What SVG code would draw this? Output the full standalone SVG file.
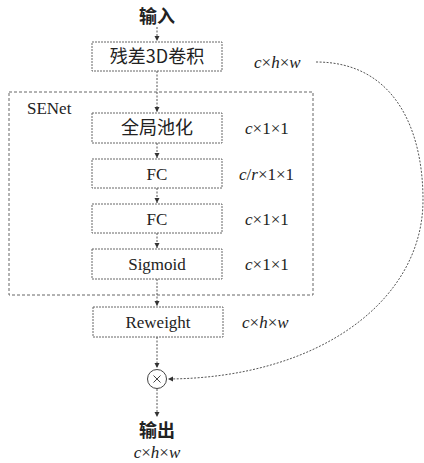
<svg xmlns="http://www.w3.org/2000/svg" width="424" height="463" viewBox="0 0 424 463">
<style>
.box{fill:#fff;stroke:#666;stroke-width:1;stroke-dasharray:2 1}
.frame{fill:none;stroke:#666;stroke-width:1;stroke-dasharray:3 2}
.t{font-family:"Liberation Serif",serif;font-size:17px;fill:#222;text-anchor:middle}
.cn{font-family:"Noto Sans CJK SC","Liberation Serif",sans-serif;font-size:18px;fill:#222;text-anchor:middle}
.dim{font-family:"Liberation Serif",serif;font-size:17px;fill:#222}
.conn{fill:none;stroke:#555;stroke-width:1;stroke-dasharray:2 1.5}
</style>
<defs>
<marker id="ah" markerWidth="6" markerHeight="6" refX="5" refY="3" orient="auto" markerUnits="userSpaceOnUse">
<path d="M0,0.5 L5,3 L0,5.5 z" fill="#333"/>
</marker>
</defs>
<g id="input"><text class="cn" x="157" y="23" font-size="17" font-weight="bold">输入</text></g>
<g id="res3d"><rect class="box" x="92" y="42" width="130" height="29"/><text class="cn" x="157" y="63">残差3D卷积</text></g>
<g id="dim0"><text class="dim" x="254" y="68"><tspan font-style="italic">c</tspan>×<tspan font-style="italic">h</tspan>×<tspan font-style="italic">w</tspan></text></g>
<g id="senet"><rect class="frame" x="9" y="92" width="304" height="203"/><text class="dim" x="27" y="114">SENet</text></g>
<g id="gap"><rect class="box" x="92" y="113" width="130" height="30"/><text class="cn" x="157" y="134">全局池化</text></g>
<g id="dim1"><text class="dim" x="245" y="134"><tspan font-style="italic">c</tspan>×1×1</text></g>
<g id="fc1"><rect class="box" x="92" y="159" width="130" height="29"/><text class="t" x="157" y="180">FC</text></g>
<g id="dim2"><text class="dim" x="239" y="180"><tspan font-style="italic">c</tspan>/<tspan font-style="italic">r</tspan>×1×1</text></g>
<g id="fc2"><rect class="box" x="92" y="204" width="130" height="29"/><text class="t" x="157" y="225">FC</text></g>
<g id="dim3"><text class="dim" x="245" y="225"><tspan font-style="italic">c</tspan>×1×1</text></g>
<g id="sigmoid"><rect class="box" x="92" y="249" width="130" height="30"/><text class="t" x="157" y="270">Sigmoid</text></g>
<g id="dim4"><text class="dim" x="245" y="270"><tspan font-style="italic">c</tspan>×1×1</text></g>
<g id="reweight"><rect class="box" x="93" y="307" width="130" height="30"/><text class="t" x="158" y="328">Reweight</text></g>
<g id="dim5"><text class="dim" x="242" y="328"><tspan font-style="italic">c</tspan>×<tspan font-style="italic">h</tspan>×<tspan font-style="italic">w</tspan></text></g>
<g id="mult"><circle cx="157" cy="379" r="9.5" fill="#fff" stroke="#444" stroke-width="1"/><path d="M153.5,375.5 L160.5,382.5 M160.5,375.5 L153.5,382.5" stroke="#444" stroke-width="1"/></g>
<g id="output"><text class="cn" x="157" y="437" font-size="17" font-weight="bold">输出</text><text class="dim" x="157" y="458" font-size="15" text-anchor="middle"><tspan font-style="italic">c</tspan>×<tspan font-style="italic">h</tspan>×<tspan font-style="italic">w</tspan></text></g>
<g id="connectors">
<path class="conn" d="M157,27 V41" marker-end="url(#ah)"/>
<path class="conn" d="M157,71 V112" marker-end="url(#ah)"/>
<path class="conn" d="M157,143 V158" marker-end="url(#ah)"/>
<path class="conn" d="M157,188 V203" marker-end="url(#ah)"/>
<path class="conn" d="M157,233 V248" marker-end="url(#ah)"/>
<path class="conn" d="M157,279 V306" marker-end="url(#ah)"/>
<path class="conn" d="M157,337 V368" marker-end="url(#ah)"/>
<path class="conn" d="M157,389 V417" marker-end="url(#ah)"/>
<path class="conn" d="M316,62 C395,62 423,130 423,200 C423,300 320,378 168,379" marker-end="url(#ah)"/>
</g>
</svg>
